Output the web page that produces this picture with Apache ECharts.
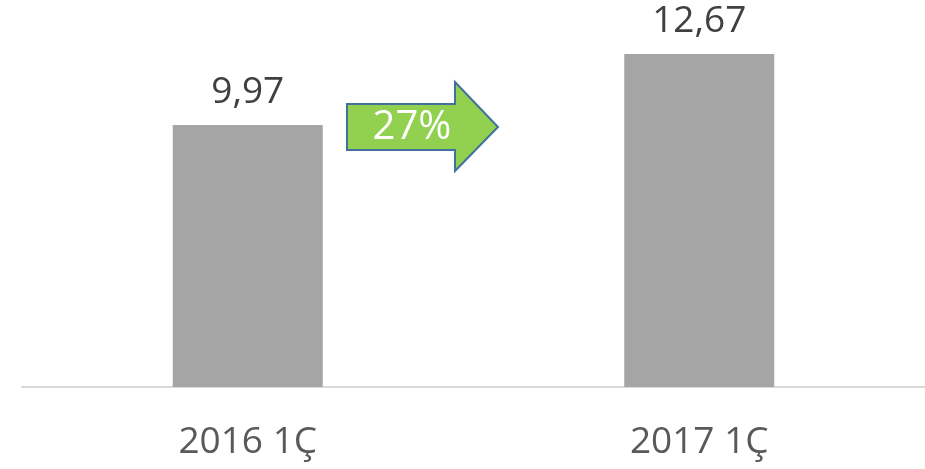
<!DOCTYPE html>
<html>
<head>
<meta charset="utf-8">
<script src="https://cdn.jsdelivr.net/npm/echarts@6/dist/echarts.min.js"></script>
<style>
  html, body { margin: 0; padding: 0; background: #fff; }
  #chart { width: 925px; height: 469px; }
</style>
</head>
<body>
<div id="chart"></div>
<script>
var categories = ['2016 1Ç', '2017 1Ç'];
var values = [9.97, 12.67];
var growthLabel = '27%';

var chart = echarts.init(document.getElementById('chart'));

// arrow shape between the bars
var arrowPoints = [
	[347, 104], [455, 104], [455, 82], [498, 127],
	[455, 171], [455, 150], [347, 150]
];

var option = {
	animation: false,
	grid: {
		top: 19,
		bottom: 82,
		left: 22,
		right: -3
	},
	xAxis: {
		type: 'category',
		data: categories,
		axisLine: {
			lineStyle: { color: '#d9d9d9', width: 2 }
		},
		axisTick: { show: false },
		axisLabel: {
			margin: 37,
			fontSize: 37,
			fontFamily: 'Open Sans',
			color: '#595959'
		}
	},
	yAxis: {
		type: 'value',
		min: 0,
		max: 14,
		show: false,
		splitLine: { show: false }
	},
	series: [{
		type: 'bar',
		data: values,
		barWidth: 150,
		itemStyle: { color: '#a5a5a5' },
		label: {
			show: true,
			position: 'top',
			distance: 14,
			fontSize: 37,
			fontFamily: 'Open Sans',
			color: '#404040',
			formatter: function (p) {
				return p.value.toFixed(2).replace('.', ',');
			}
		}
	}],
	graphic: [
		{
			type: 'polygon',
			shape: { points: arrowPoints },
			style: { fill: '#92d050', stroke: '#41719c', lineWidth: 2 }
		},
		{
			type: 'text',
			x: 412,
			y: 128,
			style: {
				text: growthLabel,
				fill: '#ffffff',
				fontSize: 40,
				fontFamily: 'Open Sans',
				align: 'center',
				verticalAlign: 'middle'
			}
		}
	]
};
chart.setOption(option);
window.addEventListener('resize', function () {
	chart.resize();
});
</script>
</body>
</html>
